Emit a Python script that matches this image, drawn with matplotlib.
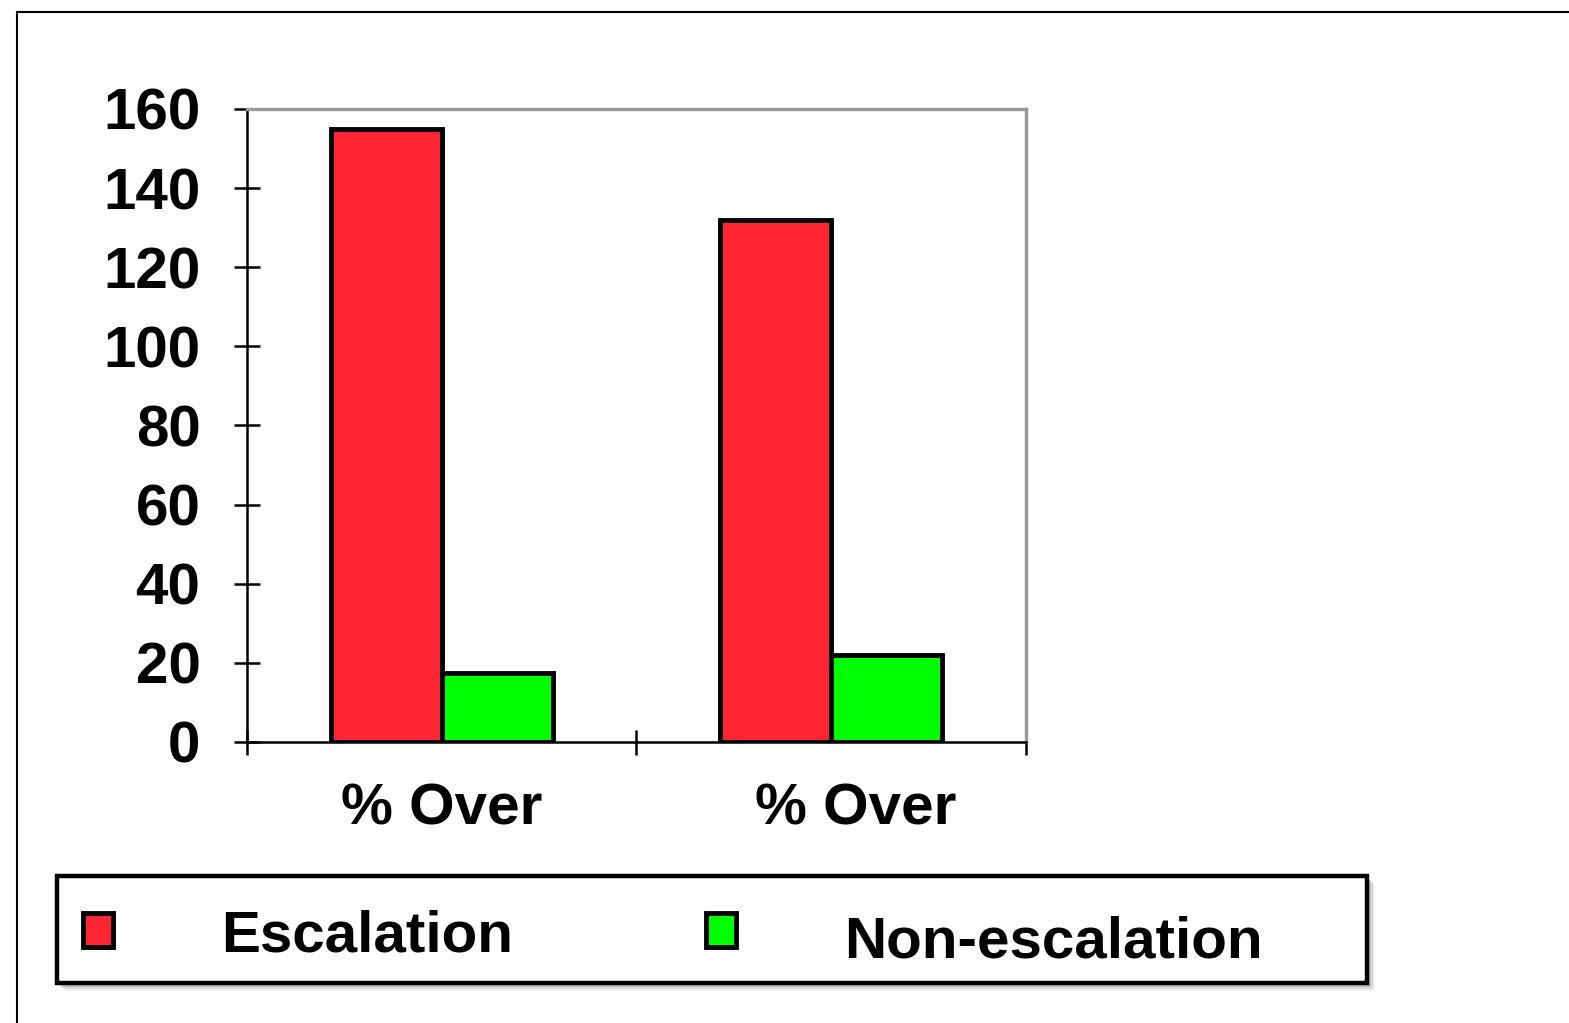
import numpy as np
import matplotlib.pyplot as plt
from matplotlib import patches, transforms

# bar values for the two groups
categories = ["% Over", "% Over"]
escalation = [155, 132]
non_escalation = [17.5, 22]
series_names = ["Escalation", "Non-escalation"]
y_ticks = [0, 20, 40, 60, 80, 100, 120, 140, 160]

red = "#FF2633"
green = "#00FF00"

plt.rcParams['font.family'] = ['Liberation Sans', 'DejaVu Sans']
plt.rcParams['font.weight'] = 'bold'

fig = plt.figure(figsize=(15.69, 10.23), dpi=100)
ax = fig.add_axes([0.1574, 0.2747, 0.4965, 0.6188])

x = np.arange(len(categories))
w = 0.285
b1 = ax.bar(x - w / 2, escalation, w, color=red, edgecolor='black', linewidth=3.5)
b2 = ax.bar(x + w / 2, non_escalation, w, color=green, edgecolor='black', linewidth=3.5)

ax.set_xlim(-0.5, 1.5)
ax.set_ylim(0, 160)
ax.set_yticks(y_ticks)
ax.set_yticklabels([str(t) for t in y_ticks], fontsize=42, fontweight='bold')
ax.tick_params(axis='y', direction='inout', length=19, width=1.8, pad=24)

# group boundaries get the tick marks, group centres get the labels
ax.set_xticks([-0.5, 0.5, 1.5])
ax.set_xticklabels([])
ax.set_xticks(x, minor=True)
ax.set_xticklabels(categories, minor=True, fontsize=42, fontweight='bold')
ax.tick_params(axis='x', which='major', direction='inout', length=18, width=1.8)
ax.tick_params(axis='x', which='minor', length=0, pad=29)
lbl = ax.get_xticklabels(minor=True)[1]
lbl.set_transform(lbl.get_transform() + transforms.ScaledTranslation(0.24, 0, fig.dpi_scale_trans))

for s in ['left', 'bottom']:
    ax.spines[s].set_color('black')
    ax.spines[s].set_linewidth(1.8)
for s in ['top', 'right']:
    ax.spines[s].set_color('#999999')
    ax.spines[s].set_linewidth(2.4)

# outer frame, runs off the right and bottom edges
fig.patches.append(patches.Rectangle((17 / 1569, -0.2), 1.5, 0.2 + 1 - 12 / 1023,
                                     transform=fig.transFigure, fill=False,
                                     edgecolor='black', linewidth=1.5))

# legend box with a soft shadow
lx, ly, lw_, lh = 57 / 1569, 1 - 983 / 1023, (1367 - 57) / 1569, (983 - 876) / 1023
for k, a in enumerate([0.4, 0.3, 0.2, 0.1]):
    off = 2 + 2 * k
    fig.patches.append(patches.Rectangle((lx + off / 1569, ly - off / 1023), lw_, lh,
                                         transform=fig.transFigure, facecolor='#777777',
                                         edgecolor='none', alpha=a, zorder=0))
fig.patches.append(patches.Rectangle((lx, ly), lw_, lh, transform=fig.transFigure,
                                     facecolor='white', edgecolor='black', linewidth=3.2, zorder=1))

leg = fig.legend([b1, b2], series_names, loc='center left',
                 bbox_to_anchor=(83 / 1569, 1 - 936 / 1023), ncol=2, frameon=False,
                 prop={'size': 42, 'weight': 'bold'}, handlelength=0.52, handleheight=0.52,
                 handletextpad=1.85, columnspacing=3.3, borderpad=0, borderaxespad=0)
for h in leg.legend_handles:
    h.set_linewidth(3.5)
# the second label sits a little lower than the first
t2 = leg.get_texts()[1]
t2.set_transform(t2.get_transform() + transforms.ScaledTranslation(0, -0.06, fig.dpi_scale_trans))

fig.savefig("out.png", dpi=100)
